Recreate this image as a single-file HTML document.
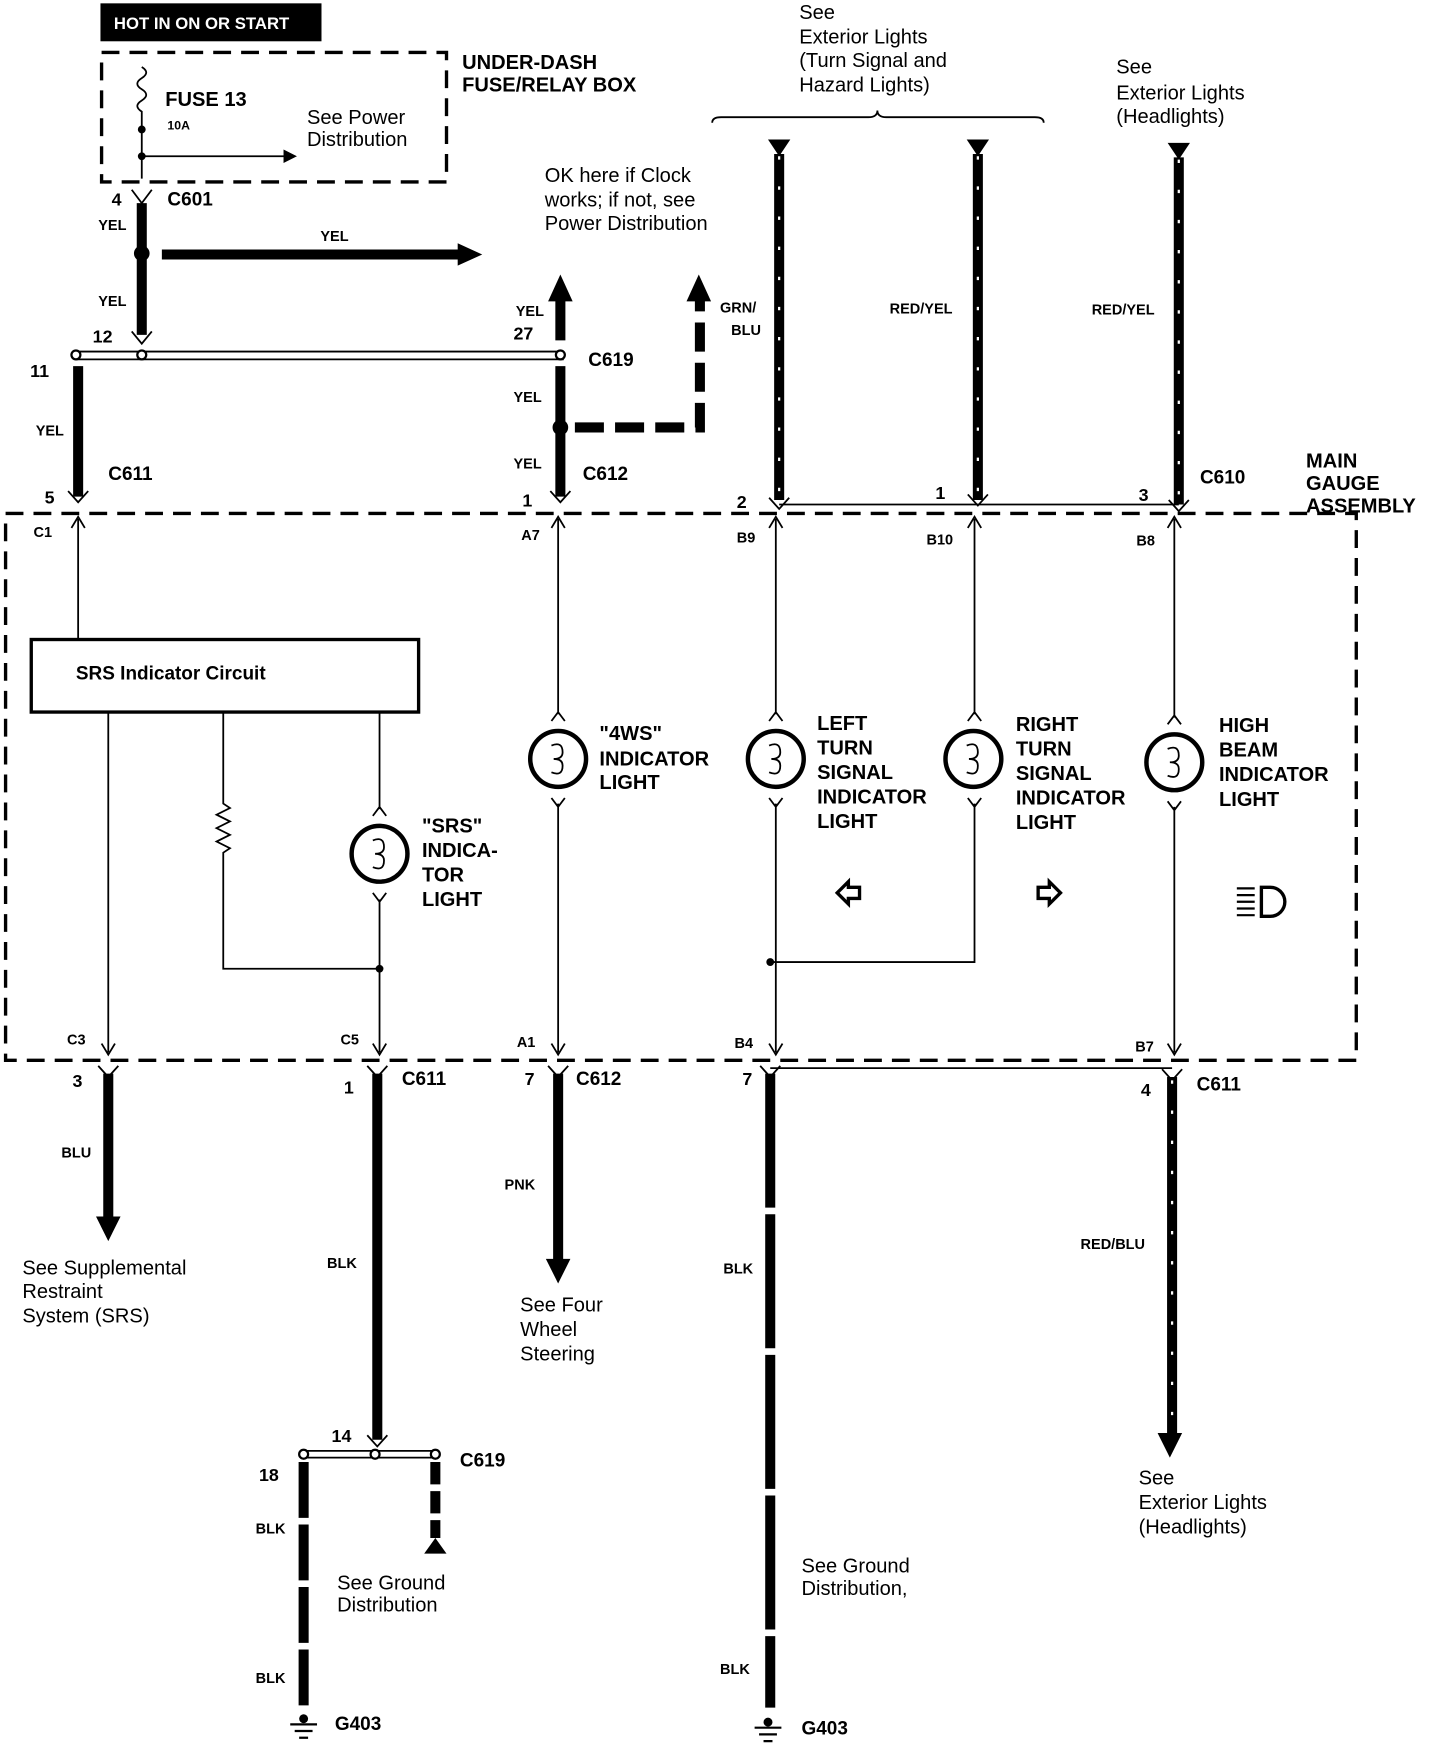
<!DOCTYPE html>
<html><head><meta charset="utf-8"><style>
html,body{margin:0;padding:0;background:#fff;}
svg{display:block;}
text{font-family:"Liberation Sans",sans-serif;fill:#000;}
.b{font-weight:bold;font-size:18px;}
.s{font-weight:bold;font-size:13px;}
.n{font-size:18px;}
.k{stroke:#000;stroke-width:9;fill:none;}
.t{stroke:#000;stroke-width:1.6;fill:none;}
.d{stroke:#000;stroke-width:3;fill:none;stroke-dasharray:16 9;}
.st{stroke:#fff;stroke-width:2;fill:none;stroke-dasharray:3 24;}
.bulb{stroke:#000;stroke-width:4;fill:#fff;}
</style></head><body>
<svg width="1440" height="1750" viewBox="0 0 1290 1568" preserveAspectRatio="none" xmlns="http://www.w3.org/2000/svg">
<rect width="1290" height="1568" fill="#fff"/>
<!-- hot box -->
<rect x="90" y="3" width="198" height="34" fill="#000"/>
<text x="102" y="26" fill="#fff" style="fill:#fff;font-weight:bold;font-size:15px">HOT IN ON OR START</text>
<!-- fuse box -->
<rect x="91" y="47" width="309" height="116" class="d"/>
<path d="M127 60 q8 5 0 10 q-8 5 0 10 q8 5 0 10 q-8 5 0 10 L127 160" class="t" stroke-width="2"/>
<circle cx="127" cy="116" r="3.5"/><circle cx="127" cy="140" r="3.5"/>
<path d="M127 140 H258" class="t" stroke-width="2"/><path d="M266 140 l-12 -6 v12z"/>
<text x="148" y="95" class="b">FUSE 13</text>
<text x="150" y="116" class="s" style="font-size:11px">10A</text>
<text x="275" y="111" class="n">See Power</text><text x="275" y="131" class="n">Distribution</text>
<text x="414" y="62" class="b">UNDER-DASH</text><text x="414" y="82" class="b">FUSE/RELAY BOX</text>
<!-- C601 -->
<path d="M118 170 L127 182 L136 170" class="t" stroke-width="3"/>
<text x="100" y="184" class="b" style="font-size:16px">4</text><text x="150" y="184" class="b" style="font-size:17px">C601</text>
<path d="M127 182 V300" class="k"/>
<text x="88" y="206" class="s">YEL</text><text x="88" y="274" class="s">YEL</text>
<circle cx="127" cy="227" r="7"/>
<path d="M145 228 H412" class="k"/><path d="M432 228 l-22 -10 v20z"/>
<text x="287" y="216" class="s">YEL</text>
<path d="M118 297 L127 308 L136 297" class="t" stroke-width="3"/>
<text x="83" y="307" class="b" style="font-size:16px">12</text>
<!-- C619 top -->
<path d="M68 315 H505 M68 322 H505" class="t"/>
<circle cx="68" cy="318" r="4" fill="#fff" stroke="#000" stroke-width="2"/>
<circle cx="127" cy="318" r="4" fill="#fff" stroke="#000" stroke-width="2"/>
<circle cx="502" cy="318" r="4" fill="#fff" stroke="#000" stroke-width="2"/>
<text x="27" y="338" class="b" style="font-size:16px">11</text>
<path d="M70 328 V445" class="k"/>
<path d="M61 440 L70 450 L79 440" class="t" stroke-width="3"/>
<text x="32" y="390" class="s">YEL</text>
<text x="97" y="430" class="b" style="font-size:17px">C611</text>
<text x="40" y="451" class="b" style="font-size:16px">5</text>
<!-- 502 column -->
<path d="M502 305 V268" class="k"/><path d="M502 246 l-11 24 h22z"/>
<text x="462" y="283" class="s">YEL</text><text x="460" y="304" class="b" style="font-size:16px">27</text>
<text x="527" y="328" class="b" style="font-size:17px">C619</text>
<path d="M502 328 V445" class="k"/>
<path d="M493 440 L502 450 L511 440" class="t" stroke-width="3"/>
<text x="460" y="360" class="s">YEL</text><text x="460" y="420" class="s">YEL</text>
<circle cx="502" cy="383" r="7"/>
<path d="M515 383 H627 V268" class="k" stroke-dasharray="26 10"/><path d="M626 246 l-11 24 h22z"/>
<text x="522" y="430" class="b" style="font-size:17px">C612</text>
<text x="468" y="454" class="b" style="font-size:16px">1</text>
<text x="488" y="163" class="n">OK here if Clock</text><text x="488" y="185" class="n">works; if not, see</text><text x="488" y="206" class="n">Power Distribution</text>
<!-- bracket -->
<path d="M638 110 q0 -5 8 -5 H778 q8 0 8 -6 q0 6 8 6 H927 q8 0 8 5" class="t" stroke-width="2"/>
<text x="716" y="17" class="n">See</text><text x="716" y="39" class="n">Exterior Lights</text><text x="716" y="60" class="n">(Turn Signal and</text><text x="716" y="82" class="n">Hazard Lights)</text>
<text x="1000" y="66" class="n">See</text><text x="1000" y="89" class="n">Exterior Lights</text><text x="1000" y="110" class="n">(Headlights)</text>
<!-- striped wires -->
<path d="M688 125 h20 l-10 15z"/><path d="M698 138 V448" class="k"/><path d="M698 140 V448" class="st"/>
<path d="M866 125 h20 l-10 15z"/><path d="M876 138 V448" class="k"/><path d="M876 140 V448" class="st"/>
<path d="M1046 128 h20 l-10 15z"/><path d="M1056 141 V452" class="k"/><path d="M1056 143 V452" class="st"/>
<path d="M689 446 L698 456 L707 446 M867 443 L876 453 L885 443 M1047 448 L1056 458 L1065 448" class="t" stroke-width="3"/>
<path d="M698 452 H1056" class="t" stroke-width="1"/>
<text x="645" y="280" class="s">GRN/</text><text x="655" y="300" class="s">BLU</text>
<text x="797" y="281" class="s">RED/YEL</text><text x="978" y="282" class="s">RED/YEL</text>
<text x="660" y="455" class="b" style="font-size:16px">2</text><text x="838" y="447" class="b" style="font-size:16px">1</text>
<text x="1020" y="449" class="b" style="font-size:16px">3</text><text x="1075" y="433" class="b" style="font-size:17px">C610</text>
<text x="1170" y="419" class="b">MAIN</text><text x="1170" y="439" class="b">GAUGE</text><text x="1170" y="459" class="b">ASSEMBLY</text>
<!-- main box -->
<path d="M5 460 H1215 V950 H5 Z" class="d"/>
<text x="30" y="481" class="s">C1</text><text x="467" y="484" class="s">A7</text><text x="660" y="486" class="s">B9</text><text x="830" y="488" class="s">B10</text><text x="1018" y="489" class="s">B8</text>
<text x="60" y="936" class="s">C3</text><text x="305" y="936" class="s">C5</text><text x="463" y="938" class="s">A1</text><text x="658" y="939" class="s">B4</text><text x="1017" y="942" class="s">B7</text>
<!-- internal -->
<path d="M70 572 V465 M64 473 L70 463 L76 473" class="t"/>
<rect x="28" y="573" width="347" height="65" fill="#fff" stroke="#000" stroke-width="3"/>
<text x="68" y="609" class="b" style="font-size:17px">SRS Indicator Circuit</text>
<path d="M97 638 V943 M91 935 L97 945 L103 935" class="t"/>
<path d="M200 638 V720 l6 4 l-12 6 l12 6 l-12 6 l12 6 l-12 6 l12 6 l-6 4 V868 H340" class="t"/>
<path d="M340 638 V725 M334 731 L340 723 L346 731 M334 800 L340 808 L346 800 M340 806 V943 M334 935 L340 945 L346 935" class="t"/>
<circle cx="340" cy="868" r="3.5"/>
<!-- verticals -->
<g class="t">
<path d="M500 465 V640 M494 473 L500 463 L506 473 M494 646 L500 638 L506 646 M494 715 L500 723 L506 715 M500 720 V943 M494 935 L500 945 L506 935"/>
<path d="M695 465 V640 M689 473 L695 463 L701 473 M689 646 L695 638 L701 646 M689 715 L695 723 L701 715 M695 720 V943 M689 935 L695 945 L701 935"/>
<path d="M873 465 V640 M867 473 L873 463 L879 473 M867 646 L873 638 L879 646 M867 715 L873 723 L879 715 M873 720 V862 H690"/>
<path d="M1052 465 V643 M1046 473 L1052 463 L1058 473 M1046 649 L1052 641 L1058 649 M1046 718 L1052 726 L1058 718 M1052 723 V943 M1046 935 L1052 945 L1058 935"/>
</g>
<circle cx="690" cy="862" r="3.5"/>
<!-- bulbs -->
<g>
<circle cx="500" cy="680" r="25" class="bulb"/><circle cx="695" cy="680" r="25" class="bulb"/><circle cx="872" cy="680" r="25" class="bulb"/><circle cx="1052" cy="683" r="25" class="bulb"/><circle cx="340" cy="765" r="25" class="bulb"/>
</g>
<g class="t" stroke-width="2">
<path d="M494 668 q10 -4 10 6 q0 6 -8 6 q8 0 8 6 q0 10 -10 6"/>
<path d="M689 668 q10 -4 10 6 q0 6 -8 6 q8 0 8 6 q0 10 -10 6"/>
<path d="M866 668 q10 -4 10 6 q0 6 -8 6 q8 0 8 6 q0 10 -10 6"/>
<path d="M1046 671 q10 -4 10 6 q0 6 -8 6 q8 0 8 6 q0 10 -10 6"/>
<path d="M334 753 q10 -4 10 6 q0 6 -8 6 q8 0 8 6 q0 10 -10 6"/>
</g>
<g class="b">
<text x="537" y="663">"4WS"</text><text x="537" y="686">INDICATOR</text><text x="537" y="707">LIGHT</text>
<text x="732" y="654">LEFT</text><text x="732" y="676">TURN</text><text x="732" y="698">SIGNAL</text><text x="732" y="720">INDICATOR</text><text x="732" y="742">LIGHT</text>
<text x="910" y="655">RIGHT</text><text x="910" y="677">TURN</text><text x="910" y="699">SIGNAL</text><text x="910" y="721">INDICATOR</text><text x="910" y="743">LIGHT</text>
<text x="1092" y="656">HIGH</text><text x="1092" y="678">BEAM</text><text x="1092" y="700">INDICATOR</text><text x="1092" y="722">LIGHT</text>
<text x="378" y="746">"SRS"</text><text x="378" y="768">INDICA-</text><text x="378" y="790">TOR</text><text x="378" y="812">LIGHT</text>
</g>
<path d="M750 800 l10 -10 v5 h10 v10 h-10 v5z" fill="none" stroke="#000" stroke-width="3"/>
<path d="M950 800 l-10 -10 v5 h-10 v10 h10 v5z" fill="none" stroke="#000" stroke-width="3"/>
<path d="M1108 796 h16 M1108 802 h16 M1108 808 h16 M1108 814 h16 M1108 820 h16" stroke="#000" stroke-width="2"/>
<path d="M1130 795 h8 a13 13 0 0 1 0 26 h-8z" fill="none" stroke="#000" stroke-width="3"/>
<!-- bottom -->
<path d="M88 955 L97 965 L106 955 M329 955 L338 965 L347 955 M491 955 L500 965 L509 955 M681 955 L690 965 L699 955 M1041 958 L1050 968 L1059 958" class="t" stroke-width="3"/>
<path d="M690 957 H1050" class="t" stroke-width="1"/>
<path d="M97 962 V1092" class="k"/><path d="M97 1112 l-11 -22 h22z"/>
<text x="65" y="974" class="b" style="font-size:16px">3</text><text x="55" y="1037" class="s">BLU</text>
<text x="20" y="1142" class="n">See Supplemental</text><text x="20" y="1163" class="n">Restraint</text><text x="20" y="1185" class="n">System (SRS)</text>
<path d="M338 962 V1290" class="k"/>
<text x="308" y="980" class="b" style="font-size:16px">1</text><text x="360" y="972" class="b" style="font-size:17px">C611</text>
<text x="293" y="1136" class="s">BLK</text>
<path d="M329 1286 L338 1296 L347 1286" class="t" stroke-width="3"/>
<text x="297" y="1292" class="b" style="font-size:16px">14</text>
<path d="M270 1300 H392 M270 1306 H392" class="t"/>
<circle cx="272" cy="1303" r="4" fill="#fff" stroke="#000" stroke-width="2"/><circle cx="336" cy="1303" r="4" fill="#fff" stroke="#000" stroke-width="2"/><circle cx="390" cy="1303" r="4" fill="#fff" stroke="#000" stroke-width="2"/>
<text x="232" y="1327" class="b" style="font-size:16px">18</text><text x="412" y="1314" class="b" style="font-size:17px">C619</text>
<path d="M272 1310 V1530" class="k" stroke-dasharray="50 6"/>
<text x="229" y="1374" class="s">BLK</text><text x="229" y="1508" class="s">BLK</text>
<path d="M260 1545 h24 M264 1551 h16 M268 1557 h8" stroke="#000" stroke-width="2"/><circle cx="272" cy="1540" r="4"/>
<text x="300" y="1550" class="b" style="font-size:17px">G403</text>
<path d="M390 1310 V1378" class="k" stroke-dasharray="20 6"/><path d="M390 1378 l-10 14 h20z"/>
<text x="302" y="1424" class="n">See Ground</text><text x="302" y="1444" class="n">Distribution</text>
<path d="M500 962 V1130" class="k"/><path d="M500 1150 l-11 -22 h22z"/>
<text x="470" y="972" class="b" style="font-size:16px">7</text><text x="516" y="972" class="b" style="font-size:17px">C612</text>
<text x="452" y="1066" class="s">PNK</text>
<text x="466" y="1175" class="n">See Four</text><text x="466" y="1197" class="n">Wheel</text><text x="466" y="1219" class="n">Steering</text>
<path d="M690 962 V1530" class="k" stroke-dasharray="120 6"/>
<text x="665" y="972" class="b" style="font-size:16px">7</text>
<text x="648" y="1141" class="s">BLK</text><text x="645" y="1500" class="s">BLK</text>
<text x="718" y="1409" class="n">See Ground</text><text x="718" y="1429" class="n">Distribution,</text>
<path d="M676 1548 h24 M680 1554 h16 M684 1560 h8" stroke="#000" stroke-width="2"/><circle cx="688" cy="1543" r="4"/>
<text x="718" y="1554" class="b" style="font-size:17px">G403</text>
<path d="M1050 965 V1290" class="k"/><path d="M1050 968 V1290" class="st"/><path d="M1048 1306 l-11 -22 h22z"/>
<text x="1022" y="982" class="b" style="font-size:16px">4</text><text x="1072" y="977" class="b" style="font-size:17px">C611</text>
<text x="968" y="1119" class="s">RED/BLU</text>
<text x="1020" y="1330" class="n">See</text><text x="1020" y="1352" class="n">Exterior Lights</text><text x="1020" y="1374" class="n">(Headlights)</text>
</svg>
</body></html>
